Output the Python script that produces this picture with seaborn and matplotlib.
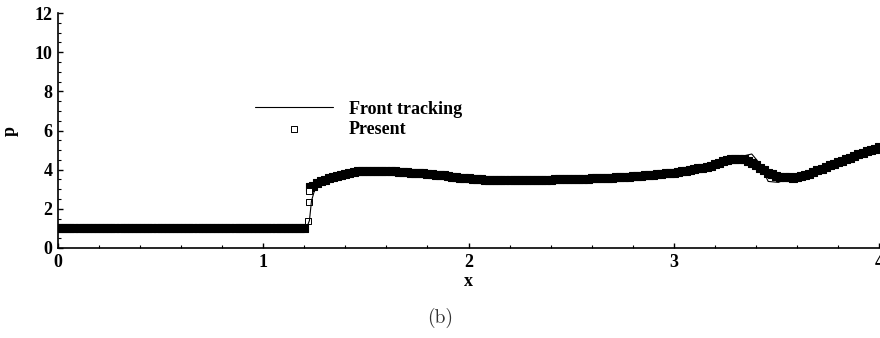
import numpy as np
import matplotlib
matplotlib.use("Agg")
import matplotlib.pyplot as plt
from matplotlib.ticker import MultipleLocator
import seaborn as sns

sns.set_style("white")
plt.rcParams["font.family"] = ["Liberation Serif", "DejaVu Serif"]

# ---- pressure profile, present scheme (square symbols) ----
x_pre = np.round(np.arange(0.0, 1.2001, 0.02), 2)
p_pre = [1.0] * len(x_pre)

x_jump = [1.219, 1.222, 1.225]
p_jump = [1.38, 2.33, 2.92]

p_post = [
    3.12,
    3.18, 3.30, 3.40, 3.49, 3.57, 3.64, 3.70, 3.75, 3.80, 3.84,
    3.88, 3.91, 3.93, 3.94, 3.95, 3.95, 3.95, 3.95, 3.94, 3.93,
    3.92, 3.90, 3.89, 3.87, 3.85, 3.84, 3.82, 3.81, 3.79, 3.77,
    3.75, 3.73, 3.71, 3.68, 3.65, 3.62, 3.59, 3.57, 3.55, 3.53,
    3.51, 3.50, 3.49, 3.49, 3.48, 3.48, 3.48, 3.47, 3.47, 3.47,
    3.47, 3.47, 3.47, 3.47, 3.48, 3.48, 3.48, 3.49, 3.49, 3.50,
    3.50, 3.51, 3.51, 3.52, 3.52, 3.53, 3.54, 3.54, 3.55, 3.56,
    3.57, 3.58, 3.59, 3.60, 3.61, 3.62, 3.64, 3.65, 3.67, 3.68,
    3.70, 3.71, 3.73, 3.75, 3.77, 3.79, 3.81, 3.83, 3.85, 3.88,
    3.91, 3.94, 3.98, 4.02, 4.06, 4.10, 4.15, 4.21, 4.28, 4.35,
    4.42, 4.49, 4.54, 4.57, 4.57, 4.53, 4.45, 4.35, 4.23, 4.10,
    3.97, 3.85, 3.76, 3.69, 3.65, 3.62, 3.61, 3.60, 3.62, 3.66,
    3.72, 3.80, 3.88, 3.96, 4.04, 4.13, 4.22, 4.30, 4.38, 4.46,
    4.54, 4.62, 4.70, 4.78, 4.86, 4.94, 5.01, 5.08, 5.15,
]
x_post = np.concatenate([[1.23], np.linspace(1.24, 4.0, len(p_post) - 1)])

x_band = np.concatenate([x_pre, x_post])
p_band = np.concatenate([p_pre, p_post])

# ---- front tracking reference solution (solid line) ----
x_ft = [0.0, 1.21, 1.225, 1.235, 1.25, 1.27, 1.30, 1.35, 1.40, 1.47,
        1.55, 1.65, 1.75, 1.85, 1.95, 2.05, 2.20, 2.35, 2.50, 2.65,
        2.80, 2.95, 3.05, 3.15, 3.25, 3.30, 3.38, 3.42, 3.46, 3.51,
        3.56, 3.62, 3.70, 3.80, 3.90, 4.00]
p_ft = [1.0, 1.0, 1.40, 2.40, 2.95, 3.20, 3.42, 3.66, 3.80, 3.92,
        3.95, 3.91, 3.83, 3.74, 3.60, 3.50, 3.47, 3.48, 3.52, 3.57,
        3.67, 3.80, 3.92, 4.12, 4.45, 4.60, 4.80, 4.30, 3.40, 3.35,
        3.58, 3.68, 3.96, 4.38, 4.78, 5.15]

W, H = 880, 338
FS = 13
fig = plt.figure(figsize=(W / 100, H / 100), dpi=100)
ax = fig.add_axes([58 / W, 1 - 248 / H, 821 / W, 235 / H])

# densely packed symbols merge into a solid band
sns.scatterplot(x=x_band, y=p_band, ax=ax, marker="s", s=6.0 ** 2,
                facecolor="black", edgecolor="black", linewidth=0.8,
                label="_band", zorder=2)
# isolated symbols across the shock stay open
sns.scatterplot(x=x_jump, y=p_jump, ax=ax, marker="s", s=4.6 ** 2,
                facecolor="white", edgecolor="black", linewidth=0.7,
                label="Present", zorder=2)
sns.lineplot(x=x_ft, y=p_ft, ax=ax, color="black", linewidth=0.8,
             sort=False, estimator=None, label="Front tracking", zorder=3)

ax.set_xlim(0, 4)
ax.set_ylim(0, 12)
ax.xaxis.set_major_locator(MultipleLocator(1))
ax.xaxis.set_minor_locator(MultipleLocator(0.2))
ax.yaxis.set_major_locator(MultipleLocator(2))
ax.yaxis.set_minor_locator(MultipleLocator(0.5))

for side in ("top", "right"):
    ax.spines[side].set_visible(False)
for side in ("left", "bottom"):
    ax.spines[side].set_linewidth(1.2)
    ax.spines[side].set_color("black")

ax.tick_params(which="both", bottom=True, left=True, top=False, right=False)
ax.tick_params(which="major", direction="in", length=3.5, width=1.0,
               labelsize=FS, color="black", labelcolor="black")
ax.tick_params(which="minor", direction="in", length=2.2, width=0.8,
               color="black")
ax.tick_params(axis="x", pad=4)
ax.tick_params(axis="y", pad=4)
for lab in ax.get_xticklabels() + ax.get_yticklabels():
    lab.set_fontweight("bold")

ax.set_xlabel("x", fontsize=FS, fontweight="bold", color="black")
ax.set_ylabel("p", fontsize=FS, fontweight="bold", color="black")
ax.xaxis.set_label_coords(0.5, -0.106)
ax.yaxis.set_label_coords(-0.048, 0.5)

handles, labels = ax.get_legend_handles_labels()
order = [labels.index("Front tracking"), labels.index("Present")]
leg = ax.legend([handles[i] for i in order], [labels[i] for i in order],
                loc="upper left", bbox_to_anchor=(0.240, 0.627),
                frameon=False, borderpad=0, borderaxespad=0,
                handlelength=4.3, handletextpad=0.9, labelspacing=0.16,
                scatterpoints=1, prop={"weight": "bold", "size": FS})
for t in leg.get_texts():
    t.set_color("black")

fig.text(0.5, 1 - 318 / H, "(b)", ha="center", va="center",
         fontsize=14, family=["cmr10", "DejaVu Serif"], color="#333333")

fig.savefig("out.png", dpi=100)
